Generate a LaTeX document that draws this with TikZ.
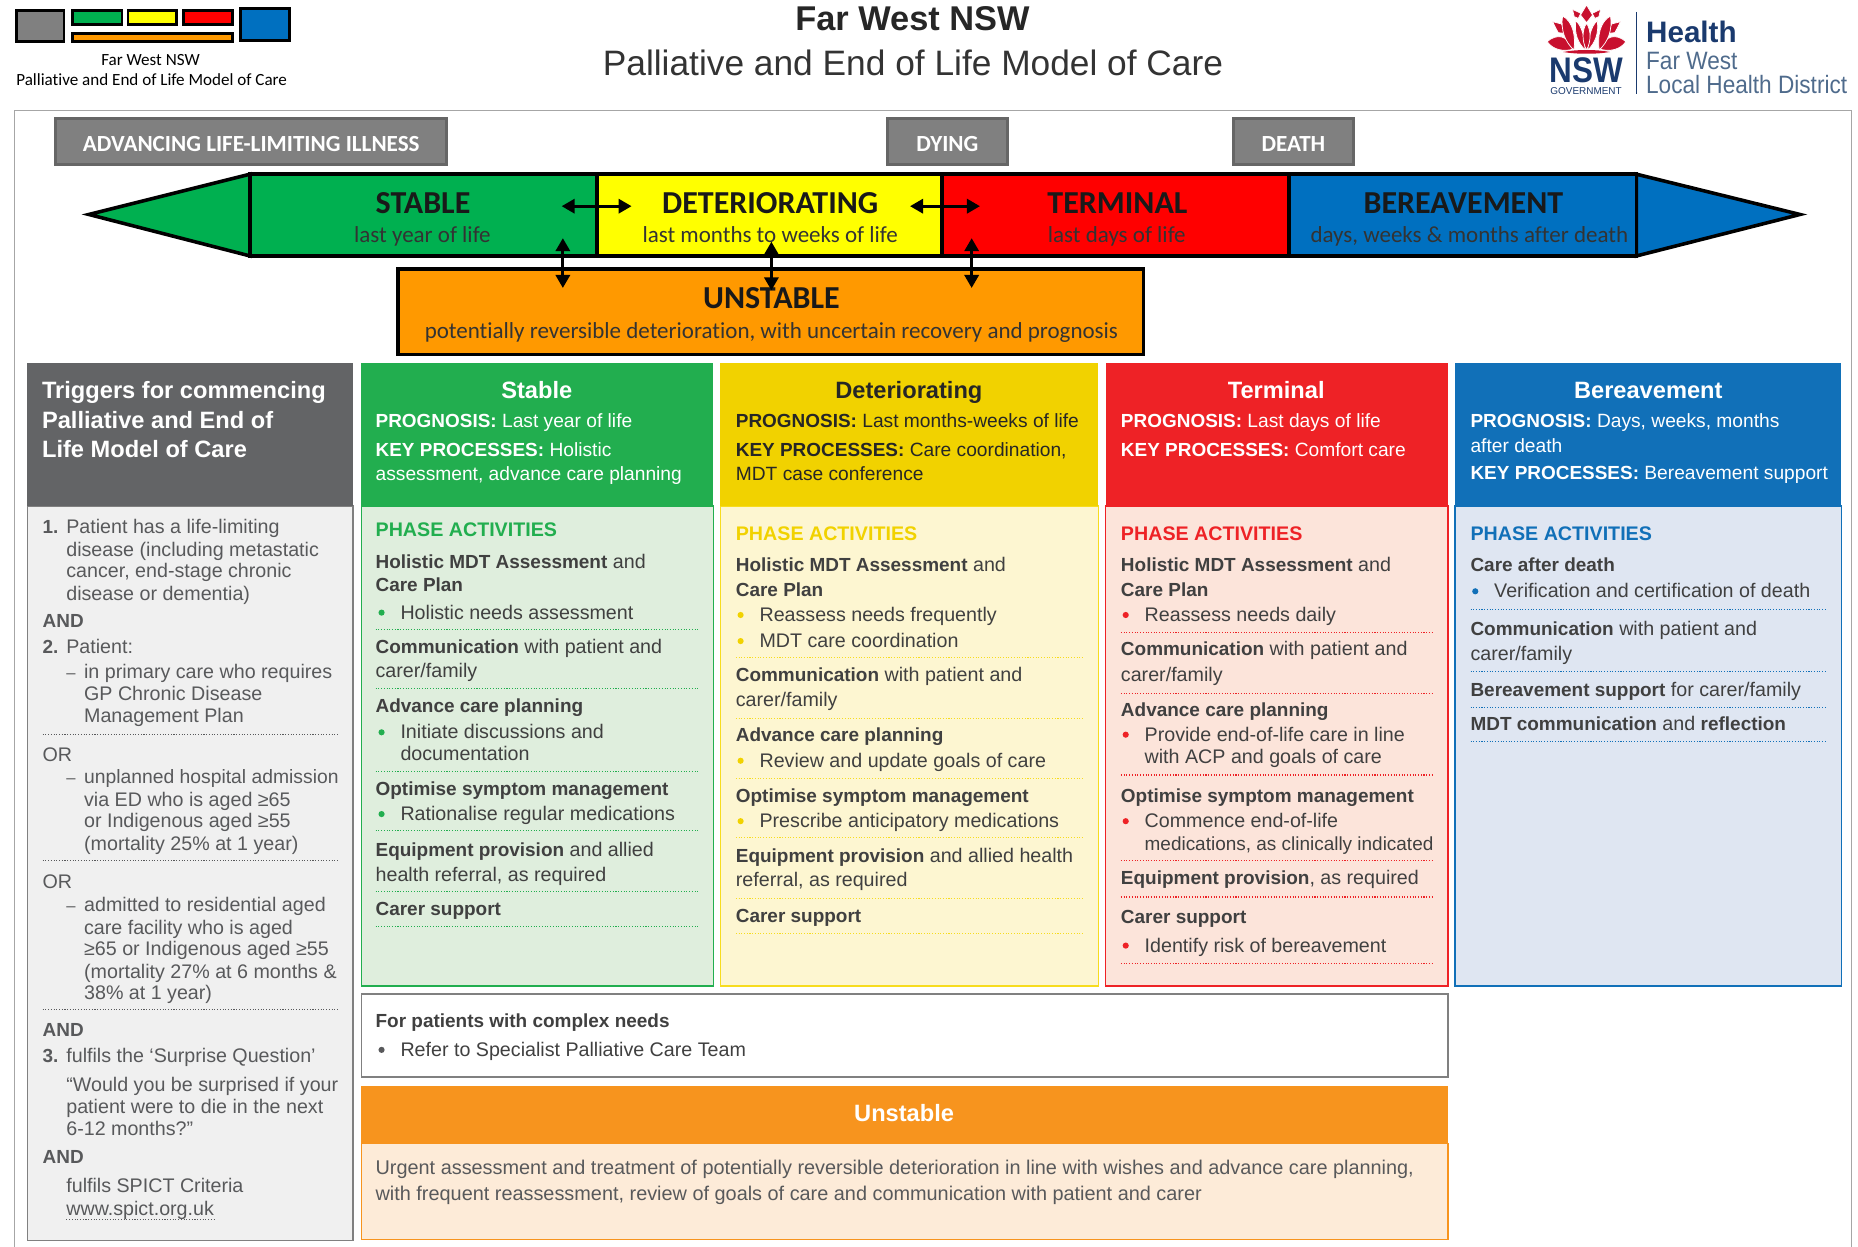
\documentclass[tikz,border=0pt]{standalone}
\usepackage{fontspec}
\setmainfont{Liberation Sans}
\newfontfamily\carl[Ligatures=CommonOff]{Carlito}
\usetikzlibrary{arrows.meta}
\definecolor{txtdark}{HTML}{404040}
\definecolor{txtgrey}{HTML}{58595B}
\definecolor{cG}{HTML}{22AE4F}\definecolor{cGl}{HTML}{DFEEDD}
\definecolor{cY}{HTML}{F1D200}\definecolor{cYl}{HTML}{FDF6D1}\definecolor{cYb}{HTML}{F7DC1E}
\definecolor{cR}{HTML}{EE2226}\definecolor{cRl}{HTML}{FCE4DA}
\definecolor{cB}{HTML}{1170B8}\definecolor{cBl}{HTML}{DFE6F2}
\definecolor{cO}{HTML}{F7941E}\definecolor{cOl}{HTML}{FDEBD8}
\definecolor{cK}{HTML}{636466}\definecolor{cKl}{HTML}{F0F0F0}
\definecolor{barG}{HTML}{00B050}\definecolor{barY}{HTML}{FFFF00}\definecolor{barR}{HTML}{FF0000}
\definecolor{barB}{HTML}{0070C0}\definecolor{barO}{HTML}{FF9900}
\definecolor{nswred}{HTML}{C8102E}\definecolor{nswblue}{HTML}{1A3A6E}\definecolor{nswgrey}{HTML}{4F6B8C}
\newcounter{tn}
\newcommand{\LB}[4][body]{\stepcounter{tn}\node[#1,anchor=base west] (t\arabic{tn}) at (#2,#3+5.5) {#4};}
\newcommand{\CT}[4][body]{\stepcounter{tn}\node[#1,anchor=base] (t\arabic{tn}) at (#2,#3+5.5) {#4};}
\newcommand{\bb}[1]{{\fontsize{16}{20}\bfseries\selectfont #1}}
\newcommand{\panel}[6]{\node[#6,anchor=north west,minimum width={#4-#2},minimum height={#5-#3}] (#1) at (#2,#3) {};}
% dotted rule
\newcommand{\DR}[4]{\draw[dotrule,draw=#1] (#2,#4) -- (#3,#4);}
% bullet
\newcommand{\BU}[3]{\fill[#1] (#2,#3) circle (2.6);}
\newcommand{\dashmark}{{\fontsize{14}{14}\selectfont –}}
\tikzset{
 body/.style={inner sep=0,outer sep=0,text=txtdark,font=\fontsize{16.6}{20}\selectfont},
 grey/.style={body,text=txtgrey},
 greyb/.style={body,text=txtgrey,font=\fontsize{16}{20}\bfseries\selectfont},
 hdrb/.style={inner sep=0,outer sep=0,text=white,font=\fontsize{19.95}{24}\bfseries\selectfont},
 hdrk/.style={hdrb,text=black!85},
 wht/.style={body,text=white,font=\fontsize{16.2}{20}\selectfont},
 blk/.style={body,text=black!85,font=\fontsize{16.2}{20}\selectfont},
 phase/.style={inner sep=0,outer sep=0,font=\fontsize{16.6}{20}\bfseries\selectfont},
 box/.style={inner sep=0,outer sep=0,draw=#1,line width=1.2},
 head/.style={inner sep=0,outer sep=0,fill=#1},
 dotrule/.style={line width=0.9,dash pattern=on 0.9 off 1.4},
 seg/.style={inner sep=0,outer sep=0,draw=black,line width=3,fill=#1},
 tag/.style={inner sep=0,outer sep=0,draw=black!60,line width=2.2,fill=black!50},
 logobox/.style={inner sep=0,outer sep=0,draw=black,line width=2.4,fill=#1},
 bartitle/.style={inner sep=0,outer sep=0,text=black!90,font=\carl\fontsize{27}{30}\bfseries\selectfont},
 barsub/.style={inner sep=0,outer sep=0,text=black!80,font=\carl\fontsize{19.4}{22}\selectfont},
 tagtxt/.style={inner sep=0,outer sep=0,text=white,font=\carl\fontsize{19.5}{22}\bfseries\selectfont},
 both/.style={line width=2.4,{Triangle[width=12,length=11]}-{Triangle[width=12,length=11]}},
 petal/.style={fill=nswred,draw=white,line width=0.6,line join=round},
}
\begin{document}
\begin{tikzpicture}[x=1pt,y=-1pt]
\useasboundingbox (0,0) rectangle (1568,1052);
% ---- small logo
\panel{lgK}{14}{9}{54}{35}{logobox=black!50}
\panel{lgG}{61}{9}{103}{21}{logobox=barG}
\panel{lgY}{108}{9}{149}{21}{logobox=barY}
\panel{lgR}{155}{9}{196}{21}{logobox=barR}
\panel{lgO}{61}{28}{196}{35}{logobox=barO}
\panel{lgB}{203}{7}{244}{34}{logobox=barB}
\CT[{inner sep=0,text=black,font=\carl\fontsize{14.4}{15}\selectfont}]{127}{49.5}{Far West NSW}
\CT[{inner sep=0,text=black,font=\carl\fontsize{14.4}{15}\selectfont}]{128}{67}{Palliative and End of Life Model of Care}
% ---- titles
\CT[{inner sep=0,text=black!85,font=\fontsize{29}{32}\bfseries\selectfont}]{770}{20.5}{Far West NSW}
\CT[{inner sep=0,text=black!80,font=\fontsize{29.8}{32}\selectfont}]{770.5}{58.5}{Palliative and End of Life Model of Care}
% ---- NSW logo
\begin{scope}[shift={(1338.9,0)},x=.2813pt,y=-.2813pt]
 \foreach \s in {1,-1}{
 \begin{scope}[xscale=\s]
  \draw[petal] (-102,65) -- (-75,72) -- (-65,100) -- (-85,98) -- cycle;
  \draw[petal] (-118,125) .. controls (-90,100) and (-55,105) .. (-42,148) .. controls (-70,155) and (-100,150) .. (-118,125) -- cycle;
  \draw[petal] (-42,28) -- (-17,40) -- (-25,55) -- (-37,50) -- cycle;
  \draw[petal] (-72,48) .. controls (-40,65) and (-32,110) .. (-38,150) .. controls (-65,125) and (-78,90) .. (-72,48) -- cycle;
  \draw[petal] (-32,62) .. controls (-12,80) and (-5,120) .. (-4,150) .. controls (-25,130) and (-38,100) .. (-32,62) -- cycle;
 \end{scope}
 }
 \draw[petal] (0,15) -- (18,45) -- (0,68) -- (-18,45) -- cycle;
 \draw[petal] (0,70) .. controls (14,90) and (14,125) .. (0,150) .. controls (-14,125) and (-14,90) .. (0,70) -- cycle;
 \fill[nswred] (-70,156) .. controls (-30,148) and (30,148) .. (70,156) .. controls (30,163) and (-30,163) .. (-70,156) -- cycle;
\end{scope}
\CT[{inner sep=0,text=nswblue,font=\fontsize{30}{32}\bfseries\selectfont}]{1338.5}{64.5}{\scalebox{.885}[1]{NSW}}
\CT[{inner sep=0,text=nswblue,font=\fontsize{8.4}{9}\selectfont}]{1338.5}{74.5}{GOVERNMENT}
\draw[nswblue,line width=1] (1381,10) -- (1381,79);
\LB[{inner sep=0,text=nswblue,font=\fontsize{25}{28}\selectfont\bfseries}]{1389}{30}{Health}
\LB[{inner sep=0,text=nswgrey,font=\fontsize{21.2}{24}\selectfont}]{1389}{53.5}{\scalebox{.9}[1]{Far West}}
\LB[{inner sep=0,text=nswgrey,font=\fontsize{21.2}{24}\selectfont}]{1389}{73.5}{\scalebox{.9}[1]{Local Health District}}
% ---- frame
\draw[black!35,line width=1.1] (12.5,1052) -- (12.5,93.5) -- (1562.5,93.5) -- (1562.5,1052);
% ---- tags
\panel{tagA}{47}{100}{377}{139}{tag}
\panel{tagB}{749}{100}{850}{139}{tag}
\panel{tagC}{1041}{100}{1142}{139}{tag}
\node[tagtxt] (tagAt) at ([yshift=-2pt]tagA) {ADVANCING LIFE-LIMITING ILLNESS};
\node[tagtxt] (tagBt) at ([yshift=-2pt]tagB) {DYING};
\node[tagtxt] (tagCt) at ([yshift=-2pt]tagC) {DEATH};
% ---- phase bar
\draw[draw=black,line width=3,fill=barG,line join=miter] (211,147) -- (75,181) -- (211,216) -- cycle;
\draw[draw=black,line width=3,fill=barB,line join=miter] (1381,147) -- (1519,181) -- (1381,216) -- cycle;
\panel{barS}{211}{147}{504}{216}{seg=barG}
\panel{barD}{504}{147}{795}{216}{seg=barY}
\panel{barT}{795}{147}{1088}{216}{seg=barR}
\panel{barV}{1088}{147}{1381}{216}{seg=barB}
\panel{barU}{336}{227}{965}{299}{seg=barO}
\CT[bartitle]{357}{175}{STABLE}
\CT[bartitle]{650}{175}{DETERIORATING}
\CT[bartitle]{943}{175}{TERMINAL}
\CT[bartitle]{1235}{175}{BEREAVEMENT}
\CT[bartitle]{651}{255}{UNSTABLE}
\CT[barsub]{356.5}{199}{last year of life}
\CT[barsub]{650}{199}{last months to weeks of life}
\CT[barsub]{942.5}{199}{last days of life}
\CT[barsub]{1240}{199}{days, weeks \& months after death}
\CT[barsub]{651}{280}{potentially reversible deterioration, with uncertain recovery and prognosis}
% arrows
\coordinate (h1a) at (474,174); \coordinate (h1b) at (533,174);
\coordinate (h2a) at (768,174); \coordinate (h2b) at (827,174);
\coordinate (v1a) at (475,201); \coordinate (v1b) at (475,243);
\coordinate (v2a) at (651,204); \coordinate (v2b) at (651,245);
\coordinate (v3a) at (820,201); \coordinate (v3b) at (820,243);
\draw[both] (h1a) -- (h1b);
\draw[both] (h2a) -- (h2b);
\draw[both] (v1a) -- (v1b);
\draw[both] (v2a) -- (v2b);
\draw[both] (v3a) -- (v3b);
% ---- panels
\panel{trigB}{23}{427}{298}{1047}{box=black!50,fill=cKl}
\panel{trigH}{23}{306.5}{298}{427}{head=cK}
\panel{stB}{305}{427}{602}{832}{box=cG,fill=cGl}
\panel{stH}{305}{306.5}{602}{427}{head=cG}
\panel{deB}{608}{427}{927}{832}{box=cYb,fill=cYl}
\panel{deH}{608}{306.5}{927}{427}{head=cY}
\panel{teB}{933}{427}{1222}{832}{box=cR,fill=cRl}
\panel{teH}{933}{306.5}{1222}{427}{head=cR}
\panel{beB}{1228}{427}{1554}{832}{box=cB,fill=cBl}
\panel{beH}{1228}{306.5}{1554}{427}{head=cB}
\panel{cxB}{305}{839}{1222}{909}{box=black!50,fill=white}
\panel{unB}{305}{965}{1222}{1046}{box=cO,fill=cOl}
\panel{unH}{305}{916.5}{1222}{965}{head=cO}
% ---- triggers
\LB[hdrb]{35.5}{331}{Triggers for commencing}
\LB[hdrb]{35.5}{356}{Palliative and End of}
\LB[hdrb]{35.5}{381}{Life Model of Care}
\LB[greyb]{36}{445}{1.}\LB[grey]{56}{445}{Patient has a life-limiting}
\LB[grey]{56}{464}{disease (including metastatic}
\LB[grey]{56}{482}{cancer, end-stage chronic}
\LB[grey]{56}{501}{disease or dementia)}
\LB[greyb]{36}{524}{AND}
\LB[greyb]{36}{546}{2.}\LB[grey]{56}{546}{Patient:}
\LB[grey]{56}{567}{\dashmark}\LB[grey]{71}{567}{in primary care who requires}
\LB[grey]{71}{586}{GP Chronic Disease}
\LB[grey]{71}{604}{Management Plan}
\DR{txtgrey}{36}{286}{620}
\LB[grey]{36}{637}{OR}
\LB[grey]{56}{656}{\dashmark}\LB[grey,font=\fontsize{16.3}{20}\selectfont]{71}{656}{unplanned hospital admission}
\LB[grey]{71}{675}{via ED who is aged ≥65}
\LB[grey]{71}{693}{or Indigenous aged ≥55}
\LB[grey]{71}{712}{(mortality 25\% at 1 year)}
\DR{txtgrey}{36}{286}{726}
\LB[grey]{36}{744}{OR}
\LB[grey]{56}{764}{\dashmark}\LB[grey]{71}{764}{admitted to residential aged}
\LB[grey]{71}{783}{care facility who is aged}
\LB[grey]{71}{801}{≥65 or Indigenous aged ≥55}
\LB[grey]{71}{820}{(mortality 27\% at 6 months \&}
\LB[grey]{71}{838}{38\% at 1 year)}
\DR{txtgrey}{36}{286}{852}
\LB[greyb]{36}{869}{AND}
\LB[greyb]{36}{891}{3.}\LB[grey]{56}{891}{fulfils the ‘Surprise Question’}
\LB[grey]{56}{916}{“Would you be surprised if your}
\LB[grey]{56}{934}{patient were to die in the next}
\LB[grey]{56}{953}{6-12 months?”}
\LB[greyb]{36}{976}{AND}
\LB[grey]{56}{1001}{fulfils SPICT Criteria}
\LB[grey]{56}{1020}{www.spict.org.uk}
\DR{txtgrey}{56}{182}{1029}
% ---- stable
\CT[hdrb]{453}{331}{Stable}
\LB[wht]{317}{355}{\bb{PROGNOSIS:} Last year of life}
\LB[wht]{317}{380}{\bb{KEY PROCESSES:} Holistic}
\LB[wht]{317}{400}{assessment, advance care planning}
\LB[phase,text=cG]{317}{447}{PHASE ACTIVITIES}
\LB{317}{474}{\bb{Holistic MDT Assessment} and}
\LB{317}{494}{\bb{Care Plan}}
\BU{cG}{322}{517}\LB{338}{517}{Holistic needs assessment}
\DR{cG}{317}{590}{531}
\LB{317}{546}{\bb{Communication} with patient and}
\LB{317}{566}{carer/family}
\DR{cG}{317}{590}{581}
\LB{317}{596}{\bb{Advance care planning}}
\BU{cG}{322}{618}\LB{338}{618}{Initiate discussions and}
\LB{338}{636}{documentation}
\DR{cG}{317}{590}{651}
\LB{317}{666}{\bb{Optimise symptom management}}
\BU{cG}{322}{687}\LB{338}{687}{Rationalise regular medications}
\DR{cG}{317}{590}{701}
\LB{317}{717}{\bb{Equipment provision} and allied}
\LB{317}{738}{health referral, as required}
\DR{cG}{317}{590}{752}
\LB{317}{767}{\bb{Carer support}}
\DR{cG}{317}{590}{782}
% ---- deteriorating
\CT[hdrk]{767}{331}{Deteriorating}
\LB[blk]{621}{355}{\bb{PROGNOSIS:} Last months-weeks of life}
\LB[blk]{621}{380}{\bb{KEY PROCESSES:} Care coordination,}
\LB[blk]{621}{400}{MDT case conference}
\LB[phase,text=cY]{621}{451}{PHASE ACTIVITIES}
\LB{621}{477}{\bb{Holistic MDT Assessment} and}
\LB{621}{498}{\bb{Care Plan}}
\BU{cY}{625}{519}\LB{641}{519}{Reassess needs frequently}
\BU{cY}{625}{541}\LB{641}{541}{MDT care coordination}
\DR{cYb}{621}{915}{555}
\LB{621}{570}{\bb{Communication} with patient and}
\LB{621}{591}{carer/family}
\DR{cYb}{621}{915}{606}
\LB{621}{620}{\bb{Advance care planning}}
\BU{cY}{625}{642}\LB{641}{642}{Review and update goals of care}
\DR{cYb}{621}{915}{657}
\LB{621}{672}{\bb{Optimise symptom management}}
\BU{cY}{625}{693}\LB{641}{693}{Prescribe anticipatory medications}
\DR{cYb}{621}{915}{707}
\LB{621}{722}{\bb{Equipment provision} and allied health}
\LB{621}{743}{referral, as required}
\DR{cYb}{621}{915}{758}
\LB{621}{773}{\bb{Carer support}}
\DR{cYb}{621}{915}{788}
% ---- terminal
\CT[hdrb]{1077}{331}{Terminal}
\LB[wht]{946}{355}{\bb{PROGNOSIS:} Last days of life}
\LB[wht]{946}{380}{\bb{KEY PROCESSES:} Comfort care}
\LB[phase,text=cR]{946}{451}{PHASE ACTIVITIES}
\LB{946}{477}{\bb{Holistic MDT Assessment} and}
\LB{946}{498}{\bb{Care Plan}}
\BU{cR}{950}{519}\LB{966}{519}{Reassess needs daily}
\DR{cR}{946}{1209}{534}
\LB{946}{548}{\bb{Communication} with patient and}
\LB{946}{570}{carer/family}
\DR{cR}{946}{1209}{585}
\LB{946}{599}{\bb{Advance care planning}}
\BU{cR}{950}{620}\LB{966}{620}{Provide end-of-life care in line}
\LB{966}{639}{with ACP and goals of care}
\DR{cR}{946}{1209}{654}
\LB{946}{672}{\bb{Optimise symptom management}}
\BU{cR}{950}{693}\LB{966}{693}{Commence end-of-life}
\LB[body,font=\fontsize{16}{20}\selectfont]{966}{712}{medications, as clinically indicated}
\DR{cR}{946}{1209}{726}
\LB{946}{741}{\bb{Equipment provision}, as required}
\DR{cR}{946}{1209}{757}
\LB{946}{774}{\bb{Carer support}}
\BU{cR}{950}{798}\LB{966}{798}{Identify risk of bereavement}
\DR{cR}{946}{1209}{813}
% ---- bereavement
\CT[hdrb]{1391}{331}{Bereavement}
\LB[wht]{1241}{355}{\bb{PROGNOSIS:} Days, weeks, months}
\LB[wht]{1241}{376}{after death}
\LB[wht]{1241}{399}{\bb{KEY PROCESSES:} Bereavement support}
\LB[phase,text=cB]{1241}{451}{PHASE ACTIVITIES}
\LB{1241}{477}{\bb{Care after death}}
\BU{cB}{1245}{499}\LB{1261}{499}{Verification and certification of death}
\DR{cB}{1241}{1541}{514}
\LB{1241}{531}{\bb{Communication} with patient and}
\LB{1241}{552}{carer/family}
\DR{cB}{1241}{1541}{567}
\LB{1241}{582}{\bb{Bereavement support} for carer/family}
\DR{cB}{1241}{1541}{597}
\LB{1241}{611}{\bb{MDT communication} and \bb{reflection}}
\DR{cB}{1241}{1541}{626}
% ---- complex + unstable
\LB{317}{862}{\bb{For patients with complex needs}}
\BU{txtgrey}{322}{886}\LB{338}{886}{Refer to Specialist Palliative Care Team}
\CT[hdrb]{763}{941}{Unstable}
\LB[grey,font=\fontsize{16.77}{20}\selectfont]{317}{986}{Urgent assessment and treatment of potentially reversible deterioration in line with wishes and advance care planning,}
\LB[grey,font=\fontsize{16.77}{20}\selectfont]{317}{1008}{with frequent reassessment, review of goals of care and communication with patient and carer}
\end{tikzpicture}
\end{document}
